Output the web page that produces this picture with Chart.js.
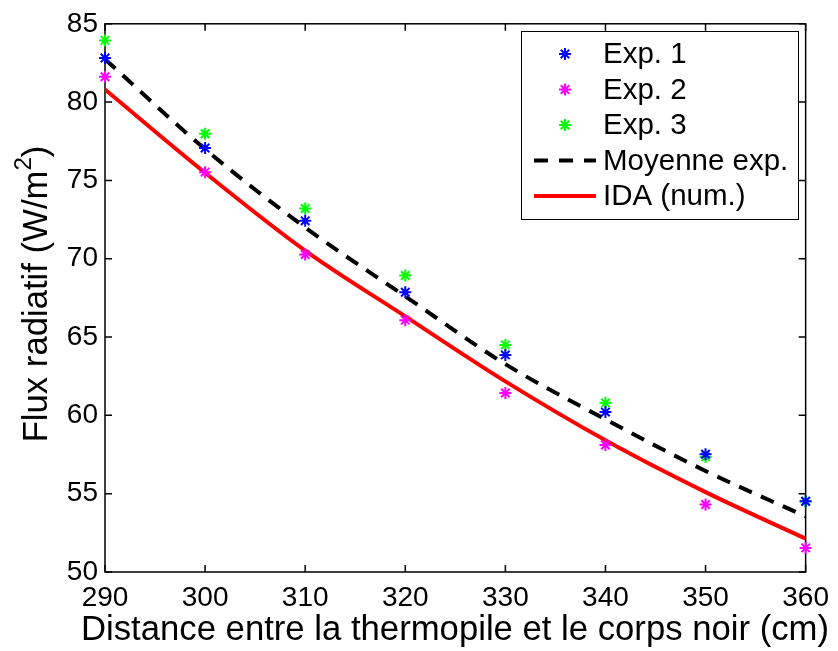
<!DOCTYPE html>
<html>
<head>
<meta charset="utf-8">
<script src="https://cdn.jsdelivr.net/npm/chart.js@4.4.1/dist/chart.umd.min.js"></script>
<style>
  html, body { margin: 0; padding: 0; background: #fff; }
  #wrap { width: 838px; height: 651px; position: relative; }
</style>
</head>
<body>
<div id="wrap"><canvas id="chart" width="838" height="651"></canvas></div>
<script>
// distances (cm)
const distances = [290, 300, 310, 320, 330, 340, 350, 360];
// measured flux (W/m2)
const exp1 = [82.82, 77.07, 72.42, 67.86, 63.86, 60.21, 57.52, 54.52];
const exp2 = [81.62, 75.53, 70.27, 66.08, 61.43, 58.11, 54.31, 51.54];
const exp3 = [83.94, 77.98, 73.21, 68.93, 64.50, 60.80, 57.35, 54.50];
// mean experimental curve and numerical result
const meanExp = [82.74, 77.00, 72.00, 67.60, 63.27, 59.75, 56.45, 53.55];
const idaNum = [80.81, 75.49, 70.52, 66.32, 62.17, 58.41, 55.10, 52.13];
const xTicks = [290, 300, 310, 320, 330, 340, 350, 360];
const yTicks = [50, 55, 60, 65, 70, 75, 80, 85];

const FONT = "'Liberation Sans', Arial, Helvetica, sans-serif";
const LABEL_SIZE = 34.7;

const toXY = (ys) => distances.map((x, i) => ({ x: x, y: ys[i] }));

const legendItems = [
  { label: "Exp. 1", type: "marker", color: "#0000ff" },
  { label: "Exp. 2", type: "marker", color: "#ff00ff" },
  { label: "Exp. 3", type: "marker", color: "#00ff00" },
  { label: "Moyenne exp.", type: "dash", color: "#000000" },
  { label: "IDA (num.)", type: "line", color: "#ff0000" }
];

// box, inward ticks, axis titles and legend
const matlabLook = {
  id: "matlabLook",
  beforeDatasetsDraw(chart) {
    const ctx = chart.ctx;
    const a = chart.chartArea;
    const xs = chart.scales.x, ys = chart.scales.y;
    ctx.save();
    ctx.strokeStyle = "#000";
    ctx.lineWidth = 1.5;
    ctx.strokeRect(a.left, a.top, a.right - a.left, a.bottom - a.top);
    ctx.beginPath();
    const tl = 7;
    xTicks.forEach(v => {
      const p = xs.getPixelForValue(v);
      ctx.moveTo(p, a.bottom); ctx.lineTo(p, a.bottom - tl);
      ctx.moveTo(p, a.top); ctx.lineTo(p, a.top + tl);
    });
    yTicks.forEach(v => {
      const p = ys.getPixelForValue(v);
      ctx.moveTo(a.left, p); ctx.lineTo(a.left + tl, p);
      ctx.moveTo(a.right, p); ctx.lineTo(a.right - tl, p);
    });
    ctx.stroke();
    ctx.restore();
  },
  afterDraw(chart) {
    const ctx = chart.ctx;
    ctx.save();
    // x title
    ctx.fillStyle = "#000";
    ctx.font = LABEL_SIZE + "px " + FONT;
    ctx.textAlign = "center";
    ctx.textBaseline = "alphabetic";
    ctx.fillText("Distance entre la thermopile et le corps noir (cm)", 455, 640);

    // y title with superscript
    ctx.save();
    ctx.translate(47, 294);
    ctx.rotate(-Math.PI / 2);
    const main = "Flux radiatif (W/m";
    const supSize = 24;
    ctx.font = LABEL_SIZE + "px " + FONT;
    const w1 = ctx.measureText(main).width;
    const w3 = ctx.measureText(")").width;
    ctx.font = supSize + "px " + FONT;
    const w2 = ctx.measureText("2").width;
    const x0 = -(w1 + w2 + w3) / 2;
    ctx.textAlign = "left";
    ctx.font = LABEL_SIZE + "px " + FONT;
    ctx.fillText(main, x0, 0);
    ctx.font = supSize + "px " + FONT;
    ctx.fillText("2", x0 + w1, -16);
    ctx.font = LABEL_SIZE + "px " + FONT;
    ctx.fillText(")", x0 + w1 + w2, 0);
    ctx.restore();

    // legend
    const bx = 521, by = 31, bw = 277, bh = 188;
    ctx.fillStyle = "#fff";
    ctx.fillRect(bx, by, bw, bh);
    ctx.lineWidth = 1;
    ctx.strokeStyle = "#000";
    ctx.strokeRect(bx + 0.5, by + 0.5, bw, bh);
    ctx.font = "29.5px " + FONT;
    ctx.textAlign = "left";
    ctx.textBaseline = "middle";
    legendItems.forEach((it, i) => {
      const cy = by + 23 + i * 35.5;
      if (it.type === "marker") {
        ctx.strokeStyle = it.color;
        ctx.lineWidth = 2;
        Chart.helpers.drawPoint(ctx, { pointStyle: "star", radius: 6, rotation: 0, borderWidth: 2 }, 565, cy);
      } else {
        ctx.beginPath();
        ctx.strokeStyle = it.color;
        ctx.lineWidth = 4;
        if (it.type === "dash") ctx.setLineDash([14, 11]);
        ctx.moveTo(534, cy); ctx.lineTo(596, cy);
        ctx.stroke();
        ctx.setLineDash([]);
      }
      ctx.fillStyle = "#000";
      ctx.fillText(it.label, 603, cy + 1);
    });
    ctx.restore();
  }
};

const markerSet = (label, ys, color) => ({
  label: label,
  data: toXY(ys),
  showLine: false,
  pointStyle: "star",
  pointRadius: 6,
  pointBorderWidth: 2,
  borderColor: color,
  backgroundColor: color,
  clip: false,
  order: 1
});

new Chart(document.getElementById("chart"), {
  type: "scatter",
  data: {
    datasets: [
      {
        label: "IDA (num.)",
        data: toXY(idaNum),
        showLine: true,
        borderColor: "#ff0000",
        borderWidth: 4,
        pointRadius: 0,
        cubicInterpolationMode: "monotone",
        order: 3
      },
      {
        label: "Moyenne exp.",
        data: toXY(meanExp),
        showLine: true,
        borderColor: "#000000",
        borderWidth: 4,
        borderDash: [14, 10],
        pointRadius: 0,
        cubicInterpolationMode: "monotone",
        order: 2
      },
      markerSet("Exp. 1", exp1, "#0000ff"),
      markerSet("Exp. 2", exp2, "#ff00ff"),
      markerSet("Exp. 3", exp3, "#00ff00")
    ]
  },
  options: {
    responsive: false,
    animation: false,
    devicePixelRatio: 1,
    layout: { padding: { top: 20, right: 29, left: 0, bottom: 0 } },
    plugins: { legend: { display: false }, tooltip: { enabled: false } },
    scales: {
      x: {
        type: "linear",
        min: 290, max: 360,
        afterBuildTicks: (s) => { s.ticks = xTicks.map(v => ({ value: v })); },
        afterFit: (s) => { s.height = 79; },
        grid: { display: false, drawTicks: false },
        border: { display: false },
        ticks: { color: "#000", font: { family: FONT, size: 28 }, padding: 9, maxRotation: 0 }
      },
      y: {
        type: "linear",
        min: 50, max: 85,
        afterBuildTicks: (s) => { s.ticks = yTicks.map(v => ({ value: v })); },
        afterFit: (s) => { s.width = 105; },
        grid: { display: false, drawTicks: false },
        border: { display: false },
        ticks: { color: "#000", font: { family: FONT, size: 28 }, padding: 7 }
      }
    }
  },
  plugins: [matlabLook]
});
</script>
</body>
</html>
